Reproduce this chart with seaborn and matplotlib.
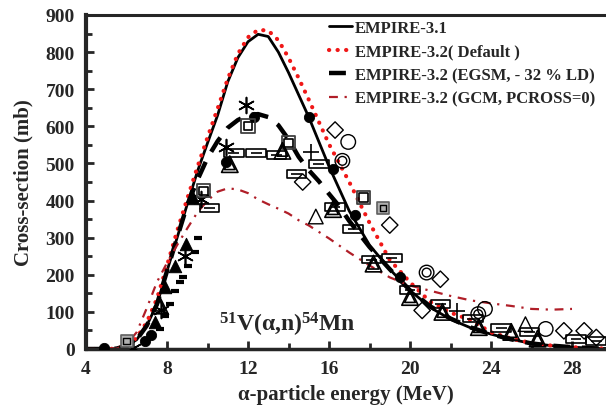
import numpy as np
import pandas as pd
import seaborn as sns
import matplotlib
matplotlib.use("Agg")
import matplotlib.pyplot as plt
from matplotlib.path import Path

# ---------------- data ----------------
E_curve = [4, 5, 5.5, 6, 6.5, 7, 7.5, 8, 8.5, 9, 9.5, 10, 10.5, 11, 11.5, 12, 12.5, 13, 13.5,
           14, 14.5, 15, 16, 17, 18, 19, 20, 21, 22, 23, 24, 25, 26, 27, 28, 29, 30]
empire31 = [0, 0, 1, 8, 25, 63, 120, 210, 300, 390, 478, 555, 630, 720, 785, 828, 848, 842, 800,
            745, 685, 625, 492, 372, 280, 215, 158, 112, 80, 57, 40, 26, 15, 9, 5, 2, 1]
empire32_def = [0, 0, 1, 10, 30, 72, 135, 225, 318, 405, 490, 570, 648, 728, 795, 840, 860, 858, 832,
                785, 730, 672, 552, 450, 340, 240, 180, 127, 98, 78, 45, 28, 16, 9, 5, 2, 1]

E_egsm = [4, 5, 5.5, 6, 6.5, 7, 7.5, 8, 8.5, 9, 9.5, 10, 10.5, 11, 11.5, 12, 12.5, 13, 13.5, 14,
          14.5, 15, 15.5, 16, 16.5, 17, 17.5, 18, 18.5, 19, 20, 21, 22, 23, 24, 25, 26, 27, 28, 29, 30]
empire32_egsm = [0, 0, 1, 8, 25, 63, 120, 210, 300, 388, 455, 515, 560, 596, 617, 630, 633, 625, 603, 565,
                 518, 482, 452, 418, 385, 345, 310, 275, 245, 215, 158, 115, 82, 58, 40, 26, 15, 9, 5, 2, 1]

E_gcm = [4, 5, 5.5, 6, 6.5, 7, 7.5, 8, 8.5, 9, 9.5, 10, 10.5, 11, 11.5, 12, 12.5, 13, 13.5, 14,
         14.5, 15, 16, 17, 18, 19, 20, 21, 22, 23, 24, 25, 26, 27, 28]
empire32_gcm = [0, 0, 1, 12, 45, 110, 180, 232, 280, 325, 368, 400, 424, 433, 430, 420, 403, 390, 378, 365,
                347, 333, 298, 260, 225, 193, 171, 157, 143, 131, 123, 116, 108, 106, 108]

# experimental data sets
fc_E = [4.9, 6.9, 7.2, 10.9, 12.3, 15.0, 16.2, 17.3, 19.5]
fc_y = [2, 22, 38, 505, 625, 626, 486, 361, 193]
ft_E = [7.4, 7.9, 8.4, 8.95, 9.3]
ft_y = [72, 166, 224, 283, 408]
dash_E = [7.65, 7.9, 8.15, 8.4, 8.64, 8.8, 9.05, 9.38, 9.55]
dash_y = [54, 90, 121, 157, 180, 193, 224, 261, 300]
ast_E = [6.3, 7.7, 8.9, 9.7, 10.9, 11.9]
ast_y = [3, 104, 250, 405, 545, 657]
plus_E = [15.1, 22.3]
plus_y = [530, 103]
dsq_E = [9.8, 12.0, 14.0, 17.7]
dsq_y = [426, 601, 556, 408]
gsq_E = [6.0, 18.65]
gsq_y = [22, 379]
rect_E = [10.1, 11.3, 12.4, 13.4, 14.4, 15.5, 16.3, 17.2, 18.1, 19.1, 20.0, 21.5, 23.1, 24.5, 25.9, 28.2, 29.2]
rect_y = [381, 527, 527, 522, 471, 498, 383, 324, 241, 245, 158, 122, 82, 56, 46, 28, 21]
dtri_E = [7.65, 11.1, 13.7, 16.2, 18.2, 20.0, 21.6, 23.4, 25.0, 26.3]
dtri_y = [117, 498, 534, 377, 230, 140, 100, 59, 46, 28]
otri_E = [15.35, 25.7]
otri_y = [357, 67]
dia_E = [14.7, 16.3, 19.0, 20.6, 21.5, 27.6, 28.6, 29.2]
dia_y = [450, 590, 334, 104, 188, 49, 49, 31]
oc_E = [16.95, 23.7, 26.7]
oc_y = [558, 108, 54]
dc_E = [16.66, 20.82, 23.37]
dc_y = [507, 206, 94]

legend_labels = ["EMPIRE-3.1", "EMPIRE-3.2( Default )",
                 "EMPIRE-3.2 (EGSM, - 32 % LD)", "EMPIRE-3.2 (GCM, PCROSS=0)"]

# ---------------- style ----------------
sns.set_style("ticks")
plt.rcParams["font.family"] = ["Liberation Serif", "DejaVu Serif"]
plt.rcParams["font.weight"] = "bold"
plt.rcParams["mathtext.fontset"] = "custom"
plt.rcParams["mathtext.rm"] = "Liberation Serif:bold"
plt.rcParams["mathtext.default"] = "rm"

fig = plt.figure(figsize=(6.06, 4.06), dpi=100)
ax = fig.add_axes([86 / 606, 1 - 350 / 406, 1 - 86 / 606, (350 - 16) / 406])

# curves
sns.lineplot(x=E_curve, y=empire31, ax=ax, color="black", lw=2.0, label=legend_labels[0],
             estimator=None, sort=False)
sns.lineplot(x=E_curve, y=empire32_def, ax=ax, color="#f01818", lw=3.0,
             label=legend_labels[1], estimator=None, sort=False)
sns.lineplot(x=E_egsm, y=empire32_egsm, ax=ax, color="black", lw=3.2, label=legend_labels[2],
             estimator=None, sort=False)
sns.lineplot(x=E_gcm, y=empire32_gcm, ax=ax, color="#b01e28", lw=1.6, label=legend_labels[3],
             estimator=None, sort=False)
lines = ax.get_lines()
lines[1].set_linestyle((0, (0.05, 2.0)))
lines[1].set_dash_capstyle("round")
lines[2].set_linestyle((0, (3.8, 2.6)))
lines[3].set_linestyle((0, (4, 3, 1, 3)))

# markers
rect_marker = Path([(-1, -0.4), (1, -0.4), (1, 0.4), (-1, 0.4), (-1, -0.4), (-0.55, 0), (0.55, 0)],
                   [Path.MOVETO, Path.LINETO, Path.LINETO, Path.LINETO, Path.CLOSEPOLY,
                    Path.MOVETO, Path.LINETO])

def sc(xs, ys, **kw):
    sns.scatterplot(x=xs, y=ys, ax=ax, legend=False, zorder=5, **kw)

sc(fc_E, fc_y, marker="o", s=55, color="black", edgecolor="black")
sc(ft_E, ft_y, marker="^", s=80, color="black", edgecolor="black")
sc(dash_E, dash_y, marker="_", s=40, color="black", linewidth=3)
sc(ast_E, ast_y, marker=(6, 2, 0), s=130, color="black", linewidth=1.2)
sc(plus_E, plus_y, marker="+", s=130, color="black", linewidth=1.2)
sc(dsq_E, dsq_y, marker="s", s=90, facecolor="none", edgecolor="#404040", linewidth=1.3)
sc(dsq_E, dsq_y, marker="s", s=35, facecolor="none", edgecolor="black", linewidth=1.2)
sc(gsq_E, gsq_y, marker="s", s=70, facecolor="#b0b0b0", edgecolor="#606060", linewidth=1.2)
sc(gsq_E, gsq_y, marker="s", s=20, facecolor="none", edgecolor="black", linewidth=1.0)
sc(rect_E, rect_y, marker=rect_marker, s=200, facecolor="none", edgecolor="black", linewidth=1.2)
sc(dtri_E, dtri_y, marker="^", s=140, facecolor="none", edgecolor="black", linewidth=1.2)
sc(dtri_E, dtri_y, marker="^", s=60, facecolor="none", edgecolor="black", linewidth=1.2)
sc(otri_E, otri_y, marker="^", s=110, facecolor="none", edgecolor="black", linewidth=1.0)
sc(dia_E, dia_y, marker="D", s=70, facecolor="none", edgecolor="black", linewidth=1.0)
sc(oc_E, oc_y, marker="o", s=110, facecolor="none", edgecolor="black", linewidth=1.0)
sc(dc_E, dc_y, marker="o", s=110, facecolor="none", edgecolor="black", linewidth=1.0)
sc(dc_E, dc_y, marker="o", s=40, facecolor="none", edgecolor="black", linewidth=1.0)

# axes
ax.set_xlim(4, 4 + (606 - 86) / 20.25)
ax.set_ylim(0, 900)
ax.set_xticks([4, 8, 12, 16, 20, 24, 28])
ax.set_xticks(np.arange(6, 30, 4), minor=True)
ax.set_yticks(np.arange(0, 901, 100))
ax.set_yticks(np.arange(50, 900, 100), minor=True)
ax.tick_params(axis="both", which="major", direction="in", length=6, width=2, labelsize=14, pad=8)
ax.tick_params(axis="both", which="minor", direction="in", length=4, width=2)
for lab in ax.get_xticklabels() + ax.get_yticklabels():
    lab.set_fontweight("bold")
ax.spines["right"].set_visible(False)
ax.spines["top"].set_visible(True)
ax.spines["left"].set_linewidth(3)
ax.spines["bottom"].set_linewidth(2.5)
ax.spines["top"].set_linewidth(2.2)

ax.set_xlabel("α-particle energy (MeV)", fontsize=15, fontweight="bold", labelpad=5)
ax.set_ylabel("Cross-section (mb)", fontsize=15, fontweight="bold", labelpad=9)

ax.text(10.55, 50, r"$^{51}$V(α,n)$^{54}$Mn", fontsize=17, fontweight="bold", ha="left", va="baseline")

leg = ax.legend(loc="upper left", bbox_to_anchor=(329 / 606, 1 - 21 / 406), bbox_transform=fig.transFigure,
                frameon=False, handlelength=1.35, handletextpad=0.2, labelspacing=0.45,
                borderaxespad=0, borderpad=0, prop={"family": "Liberation Serif", "weight": "bold", "size": 12})

fig.savefig("out.png", dpi=100)
